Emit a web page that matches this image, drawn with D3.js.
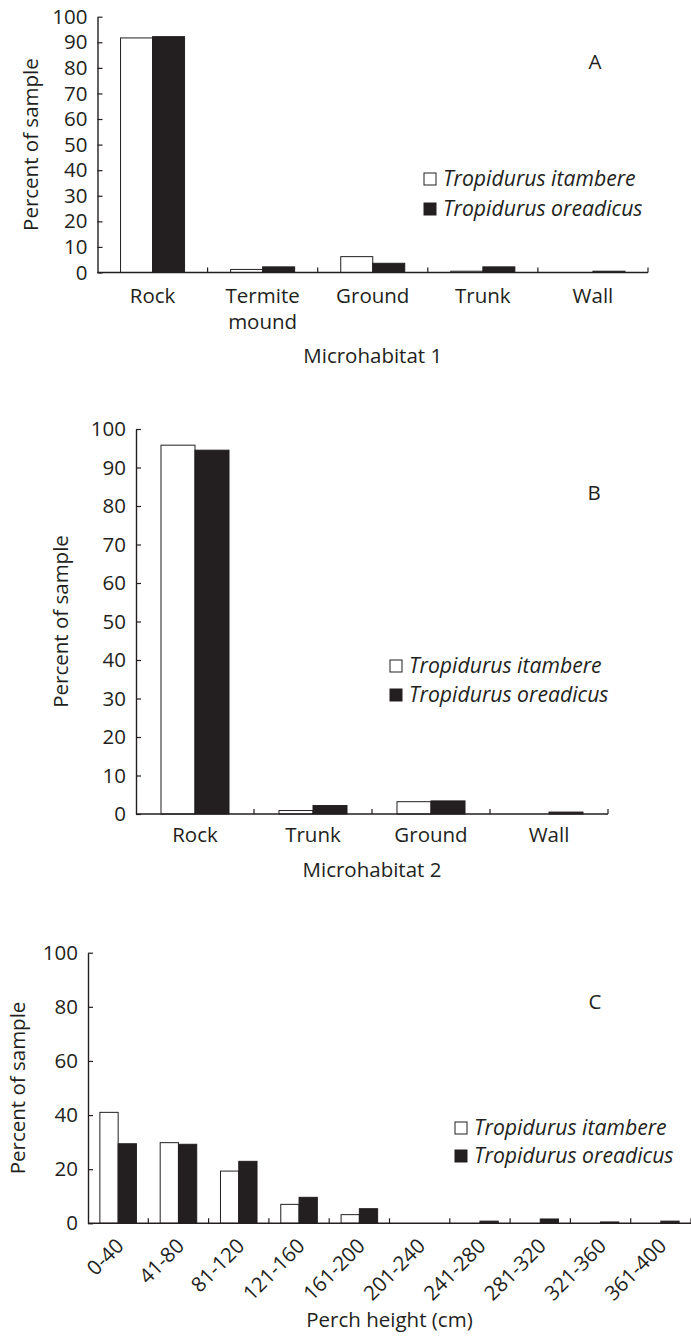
<!DOCTYPE html>
<html>
<head>
<meta charset="utf-8">
<script src="https://cdn.jsdelivr.net/npm/d3@7"></script>
<style>
  html, body { margin: 0; padding: 0; background: #fff; }
  svg { display: block; }
  text { font-family: "Open Sans", "Noto Sans", sans-serif; fill: #231f20; }
</style>
</head>
<body>
<svg id="chart" width="691" height="1338"></svg>
<script>
// ---------- data ----------
const seriesNames = ["Tropidurus itambere", "Tropidurus oreadicus"];

const catsA = ["Rock", "Termite mound", "Ground", "Trunk", "Wall"];
const itambereA = [91.7, 1.2, 6.2, 0.5, 0];
const oreadicusA = [92.2, 2.2, 3.6, 2.2, 0.5];
const ticksA = [0, 10, 20, 30, 40, 50, 60, 70, 80, 90, 100];

const catsB = ["Rock", "Trunk", "Ground", "Wall"];
const itambereB = [95.8, 0.9, 3.2, 0];
const oreadicusB = [94.5, 2.2, 3.4, 0.5];
const ticksB = [0, 10, 20, 30, 40, 50, 60, 70, 80, 90, 100];

const catsC = ["0-40", "41-80", "81-120", "121-160", "161-200", "201-240", "241-280", "281-320", "321-360", "361-400"];
const itambereC = [41.0, 29.8, 19.3, 7.0, 3.2, 0, 0, 0, 0, 0];
const oreadicusC = [29.4, 29.2, 22.9, 9.6, 5.4, 0, 0.8, 1.6, 0.5, 0.8];
const ticksC = [0, 20, 40, 60, 80, 100];

// ---------- drawing ----------
const ink = "#231f20";
const svg = d3.select("#chart");
const fills = ["#ffffff", ink];

function panel(cfg) {
  const g = svg.append("g");
  const x0 = d3.scaleBand().domain(cfg.cats).range([cfg.left, cfg.right]).padding(0);
  const x1 = d3.scaleBand().domain(seriesNames).range([0, x0.bandwidth()])
      .paddingInner(0).paddingOuter(cfg.outer);
  const y = d3.scaleLinear().domain([0, 100]).range([cfg.bottom, cfg.top]);

  const rows = cfg.cats.map((c, i) => ({
    cat: c,
    values: seriesNames.map((s, j) => ({ key: s, v: cfg.vals[j][i], j }))
  }));

  // bars
  g.selectAll("g.cat").data(rows).join("g")
    .attr("class", "cat")
    .attr("transform", d => `translate(${x0(d.cat)},0)`)
    .selectAll("rect").data(d => d.values.filter(e => e.v > 0)).join("rect")
      .attr("x", d => x1(d.key))
      .attr("y", d => y(d.v))
      .attr("width", x1.bandwidth())
      .attr("height", d => y(0) - y(d.v))
      .attr("fill", d => fills[d.j])
      .attr("stroke", ink)
      .attr("stroke-width", 1);

  // y axis
  const ya = g.append("g")
    .attr("transform", `translate(${cfg.left},0)`)
    .call(d3.axisLeft(y).tickValues(cfg.ticks).tickSizeInner(-5).tickSizeOuter(0).tickPadding(10));
  ya.select(".domain").attr("stroke", ink).attr("stroke-width", 1.4);
  ya.selectAll(".tick line").attr("stroke", ink).attr("stroke-width", 1.2);
  ya.selectAll(".tick text").attr("font-size", 20.5).attr("font-family", "Open Sans").attr("fill", ink);

  // x axis line + boundary ticks
  g.append("line")
    .attr("x1", cfg.left).attr("x2", cfg.right)
    .attr("y1", y(0)).attr("y2", y(0))
    .attr("stroke", ink).attr("stroke-width", 1.4);
  const bounds = cfg.cats.map(c => x0(c)).slice(1).concat([x0.range()[1]]);
  g.selectAll("line.bt").data(bounds).join("line")
    .attr("class", "bt")
    .attr("x1", d => d).attr("x2", d => d)
    .attr("y1", y(0)).attr("y2", y(0) - 5)
    .attr("stroke", ink).attr("stroke-width", 1.2);

  // category labels
  if (cfg.rotate) {
    g.selectAll("text.cl").data(cfg.cats).join("text")
      .attr("class", "cl")
      .attr("font-size", 20.5)
      .attr("text-anchor", "end")
      .attr("transform", d => `translate(${x0(d) + x0.bandwidth() / 2 + 7},${y(0) + 24}) rotate(-45)`)
      .text(d => d);
  } else {
    const t = g.selectAll("text.cl").data(cfg.cats).join("text")
      .attr("class", "cl")
      .attr("font-size", 20.5)
      .attr("text-anchor", "middle")
      .attr("x", d => x0(d) + x0.bandwidth() / 2)
      .attr("y", y(0) + cfg.catDy);
    t.selectAll("tspan").data(d => d.split(" ")).join("tspan")
      .attr("x", function () { return d3.select(this.parentNode).attr("x"); })
      .attr("dy", (d, i) => i === 0 ? 0 : 26)
      .text(d => d);
  }

  // axis titles
  g.append("text")
    .attr("font-size", 20.5)
    .attr("text-anchor", "middle")
    .attr("x", (cfg.left + cfg.right) / 2)
    .attr("y", cfg.xTitleY)
    .text(cfg.xTitle);
  g.append("text")
    .attr("font-size", 20.5)
    .attr("text-anchor", "middle")
    .attr("transform", `translate(${cfg.yTitleX},${(y(0) + y(100)) / 2}) rotate(-90)`)
    .text("Percent of sample");

  // panel letter
  g.append("text")
    .attr("font-size", 20.5)
    .attr("text-anchor", "middle")
    .attr("x", cfg.letterX).attr("y", cfg.letterY)
    .text(cfg.letter);

  // legend
  const lg = g.append("g").attr("transform", `translate(${cfg.legX},${cfg.legY})`);
  const items = lg.selectAll("g").data(seriesNames).join("g")
    .attr("transform", (d, i) => `translate(0,${i * cfg.legGap})`);
  items.append("rect")
    .attr("x", 0).attr("y", -13).attr("width", 12).attr("height", 12)
    .attr("fill", (d, i) => fills[i]).attr("stroke", ink).attr("stroke-width", 1);
  items.append("text")
    .attr("x", 19).attr("y", 0)
    .attr("font-size", 21.2).attr("font-style", "italic")
    .text(d => d);
}

panel({
  cats: catsA, vals: [itambereA, oreadicusA], ticks: ticksA,
  left: 97.5, right: 648, top: 16.7, bottom: 272.5, outer: 0.72,
  catDy: 30, xTitle: "Microhabitat 1", xTitleY: 363, yTitleX: 38,
  letter: "A", letterX: 595, letterY: 69,
  legX: 424, legY: 186, legGap: 30
});

panel({
  cats: catsB, vals: [itambereB, oreadicusB], ticks: ticksB,
  left: 136, right: 608, top: 429, bottom: 814, outer: 0.735,
  catDy: 28, xTitle: "Microhabitat 2", xTitleY: 877, yTitleX: 68,
  letter: "B", letterX: 594, letterY: 500,
  legX: 390, legY: 673, legGap: 29
});

panel({
  cats: catsC, vals: [itambereC, oreadicusC], ticks: ticksC,
  left: 88, right: 691, top: 952.7, bottom: 1223.3, outer: 0.65,
  rotate: true, xTitle: "Perch height (cm)", xTitleY: 1327, yTitleX: 25,
  letter: "C", letterX: 595, letterY: 1009,
  legX: 455, legY: 1135, legGap: 28
});
</script>
</body>
</html>
